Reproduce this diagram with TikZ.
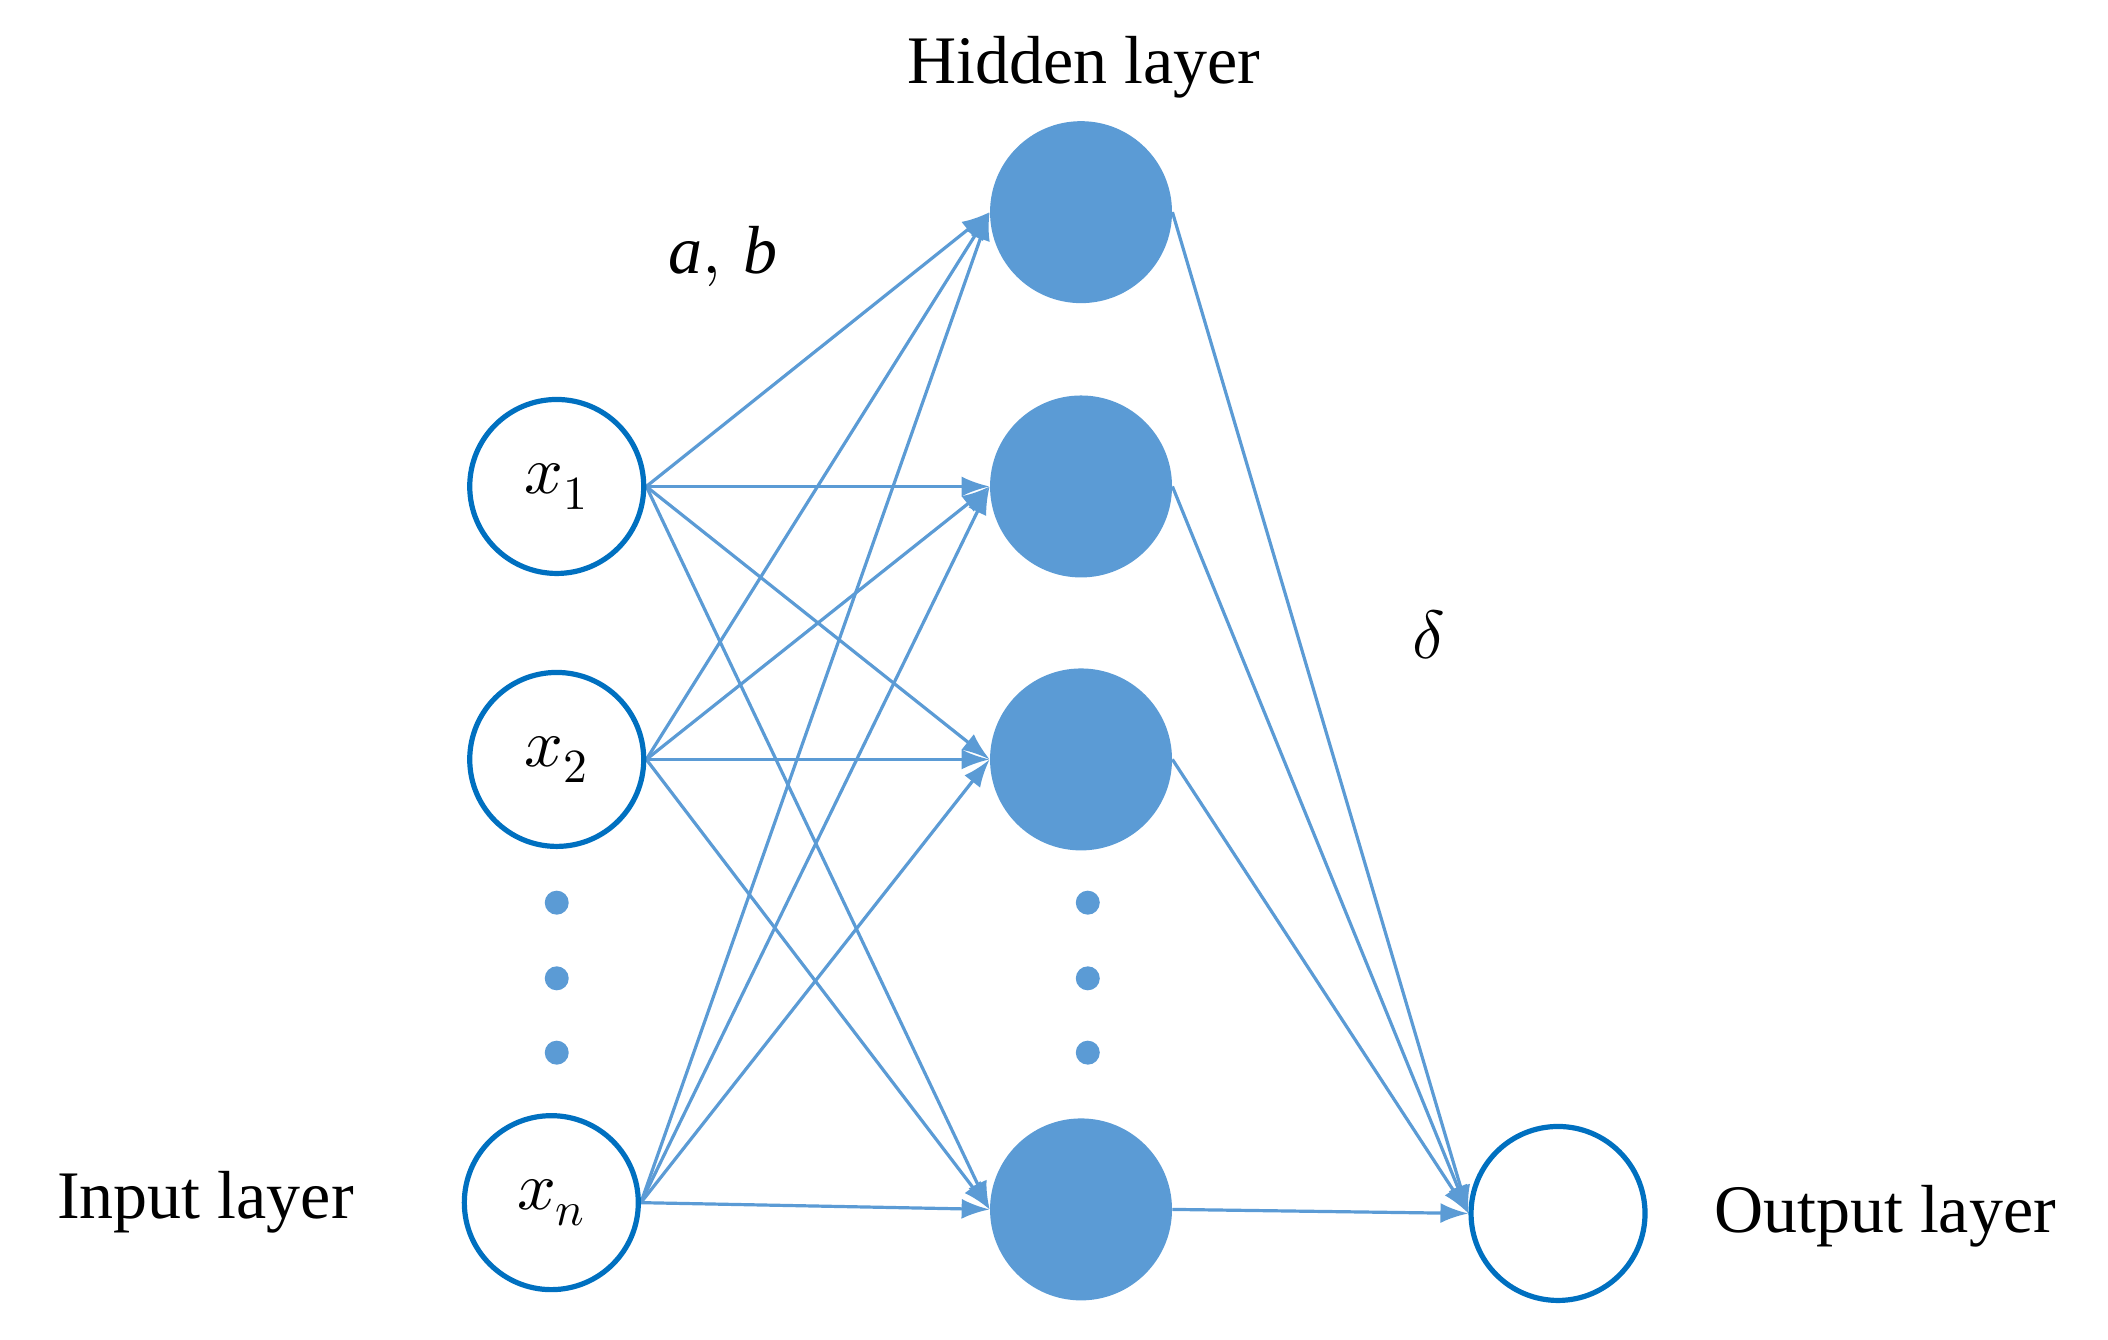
\documentclass[tikz,border=0pt]{standalone}
\usepackage{fontspec}
\setmainfont{Liberation Serif}
\usepackage{unicode-math}
\setmathfont{Latin Modern Math}
\usetikzlibrary{arrows.meta,backgrounds}
\definecolor{lb}{HTML}{5B9BD5}
\definecolor{db}{HTML}{0070C0}
\begin{document}
\begin{tikzpicture}[x=0.6757pt,y=-0.6757pt,
  inp/.style={circle,draw=db,line width=2.6pt,minimum size=87pt,inner sep=0pt,fill=white},
  hid/.style={circle,fill=lb,minimum size=91pt,inner sep=0pt},
  dot/.style={circle,fill=lb,minimum size=12pt,inner sep=0pt},
  lbl/.style={font=\fontsize{34}{40}\selectfont},
  con/.style={draw=lb,line width=1.6pt,-{Latex[length=14pt,width=10pt]}}]
\useasboundingbox (0,0) rectangle (1560,991);
\node[hid] (h1) at (800,157) {};
\node[hid] (h2) at (800,360) {};
\node[hid] (h3) at (800,562) {};
\node[hid] (h4) at (800,895) {};
\foreach \i/\y in {1/668,2/724,3/779}{
  \node[dot] (di\i) at (412,\y) {};
  \node[dot] (dh\i) at (805,\y) {};}
\node[lbl] (hl) at (802,50) {Hidden layer};
\node[lbl] (ab) at (535,190) {$\mathit{a},\, \mathit{b}$};
\node[lbl] (dl) at (1057,470) {$\delta$};
\node[lbl] (il) at (152,890) {Input layer};
\node[lbl] (ol) at (1395,900) {Output layer};
\node[inp,lbl] (x1) at (412,360) {$x_1$};
\node[inp,lbl] (x2) at (412,562) {$x_2$};
\node[inp,lbl] (xn) at (408,890) {$x_n$};
\node[inp] (o) at (1153,898) {};
\begin{scope}[on background layer]
\foreach \s in {x1,x2,xn}{
  \foreach \t in {h1,h2,h3,h4}{
    \path[con] (\s.east) -- (\t.west);}}
\foreach \t in {h1,h2,h3,h4}{
  \path[con] (\t.east) -- (o.west);}
\end{scope}
\end{tikzpicture}
\end{document}
